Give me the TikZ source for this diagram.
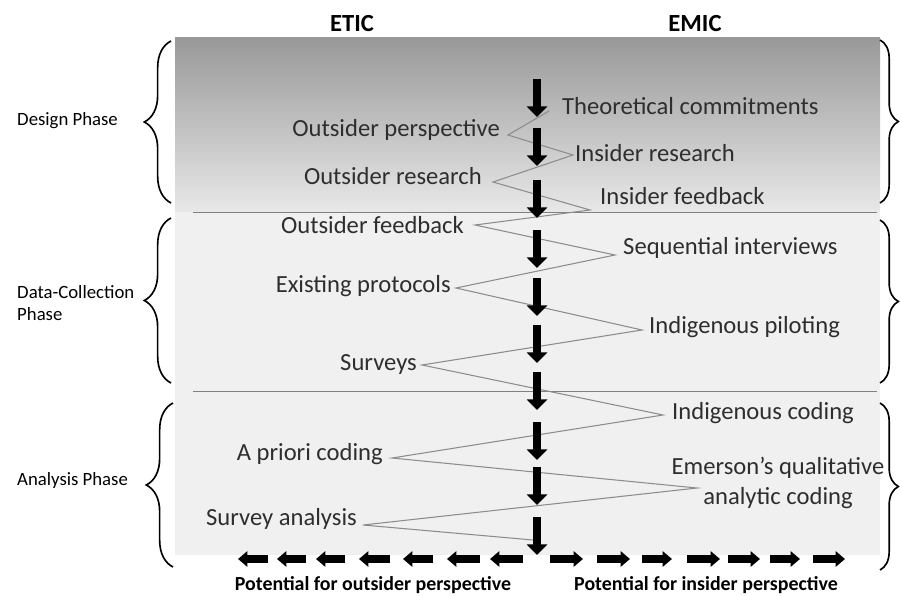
\documentclass[tikz,border=0pt]{standalone}
\usepackage{fontspec}
\setmainfont{Carlito}
\usetikzlibrary{arrows.meta,decorations.pathreplacing}
\def\drawzig{\draw[color=black!45, line width=0.9pt]}
\def\drawdown{\draw[line width=7.5pt, -{Triangle[width=17pt,length=9pt]}]}
\def\drawside{\draw[line width=6.5pt, -{Triangle[width=13pt,length=8pt]}]}
\def\leftbrace{\draw[line width=1.4pt, decorate, decoration={brace,amplitude=0.8cm}]}
\def\rightbrace{\draw[line width=1.4pt, decorate, decoration={brace,amplitude=0.55cm}]}
\def\outnode{\node[anchor=base east,inner sep=0pt,text=black!82,font=\fontsize{21}{25}\selectfont]}
\def\innode{\node[anchor=base west,inner sep=0pt,text=black!82,font=\fontsize{21}{25}\selectfont]}
\def\phasenode{\node[anchor=west,align=left,inner sep=0pt,font=\fontsize{16}{19.5}\selectfont]}
\def\headnode{\node[anchor=base,inner sep=0pt,font=\bfseries\fontsize{21}{25}\selectfont]}
\def\footnode{\node[anchor=base,inner sep=0pt,font=\bfseries\fontsize{17}{20}\selectfont]}

\begin{document}
\begin{tikzpicture}[x=0.03cm,y=-0.03cm]
\useasboundingbox (0,0) rectangle (901,596);
\fill[top color=black!40, bottom color=black!9] (175,38) rectangle (880,212);
\fill[black!6] (175,212) rectangle (880,555);
\draw[black!50, line width=0.8pt] (193,212) -- (877,212);
\draw[black!50, line width=0.8pt] (193,391) -- (877,391);
\headnode (etic) at (352,32) {ETIC};
\headnode (emic) at (695,32) {EMIC};
\phasenode (design) at (17,121) {Design Phase};
\phasenode (collect) at (17,303) {Data-Collection\\Phase};
\phasenode (analysis) at (17,480) {Analysis Phase};
\leftbrace (171,203) -- (171,41);
\leftbrace (171,383) -- (171,218);
\leftbrace (173,567) -- (173,403);
\rightbrace (880,40) -- (880,203);
\rightbrace (880,220) -- (880,383);
\rightbrace (880,403) -- (880,570);
\foreach \p [count=\i from 0] in {{549,111},{508,135},{573,155},{493,182},{590,210},{475,225},{615,255},{456,288},{642,330},{422,365},{663,415},{392,458},{697,488},{363,525},{533,540}}
  \coordinate (z\i) at (\p);
\drawzig (z0) \foreach \i in {1,...,14} {-- (z\i)};
\foreach \y in {79,128,180,230,278,325,372,422,467,517}
  \drawdown (537,\y) -- ++(0,38);
\foreach \a/\b in {268/238,306/277,345/316,390/359,433/403,480/447,523/490}
  \drawside (\a,559) -- (\b,559);
\foreach \a/\b in {550/583,597/630,642/672,687/720,728/760,770/800,813/845}
  \drawside (\a,559) -- (\b,559);
\innode (tc) at (562,115) {Theoretical commitments};
\outnode (op) at (500,137) {Outsider perspective};
\innode (ir) at (575,162) {Insider research};
\outnode (or) at (482,185) {Outsider research};
\innode (ifb) at (600,205) {Insider feedback};
\outnode (ofb) at (464,234) {Outsider feedback};
\innode (si) at (623,254) {Sequential interviews};
\outnode (ep) at (451,292) {Existing protocols};
\innode (ip) at (649,333) {Indigenous piloting};
\outnode (sv) at (417,370) {Surveys};
\innode (ic) at (672,419) {Indigenous coding};
\outnode (apc) at (383,460) {A priori coding};
\node[anchor=base,align=center,inner sep=0pt,text=black!82,font=\fontsize{21}{25}\selectfont] (eqc) at (778,504) {Emerson’s qualitative\\analytic coding};
\outnode (sa) at (357,525) {Survey analysis};
\footnode (pout) at (373,590) {Potential for outsider perspective};
\footnode (pin) at (706,590) {Potential for insider perspective};
\end{tikzpicture}
\end{document}
